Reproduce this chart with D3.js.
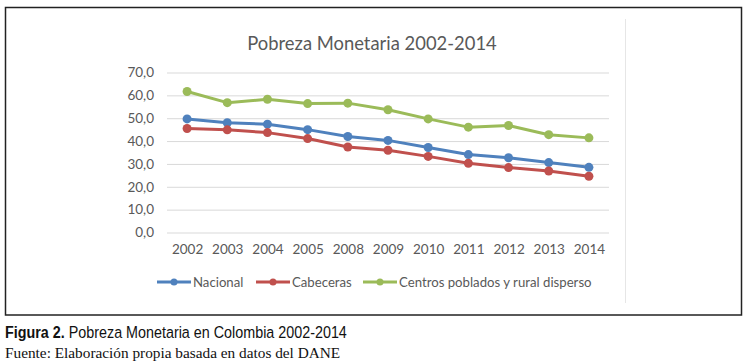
<!DOCTYPE html>
<meta charset="utf-8">
<style>
body { margin: 0; background: #fff; }
svg { display: block; }
.chart text { font-family: Lato, "Open Sans", sans-serif; fill: #595959; }
.grid line { stroke: #d9d9d9; stroke-width: 1; }
.grid .domain { display: none; }
.series { fill: none; stroke-width: 3; stroke-linejoin: round; }
</style>
<svg width="747" height="363"></svg>
<script src="https://d3js.org/d3.v7.min.js"></script>
<script>

// data (DANE, % de personas en pobreza monetaria)
var years = ["2002", "2003", "2004", "2005", "2008", "2009", "2010", "2011", "2012", "2013", "2014"];
var nacional  = [49.7, 48.0, 47.4, 45.0, 42.0, 40.3, 37.2, 34.1, 32.7, 30.6, 28.5];
var cabeceras = [45.5, 44.9, 43.7, 41.1, 37.4, 36.0, 33.3, 30.3, 28.4, 26.9, 24.6];
var rural     = [61.7, 56.8, 58.3, 56.4, 56.6, 53.7, 49.7, 46.1, 46.8, 42.8, 41.4];
var yTicks = [0, 10, 20, 30, 40, 50, 60, 70];

var series = [
  {name: "Nacional", values: nacional, color: "#4f81bd"},
  {name: "Cabeceras", values: cabeceras, color: "#c0504d"},
  {name: "Centros poblados y rural disperso", values: rural, color: "#9bbb59"}
];

var svg = d3.select("svg");

// outer frame of the figure
svg.append("rect")
    .attr("x", 5.5).attr("y", 7.5)
    .attr("width", 736).attr("height", 307.5)
    .attr("fill", "none").attr("stroke", "#222").attr("stroke-width", 1.5);

// faint line at the right of the chart area
svg.append("line")
    .attr("x1", 625.5).attr("x2", 625.5).attr("y1", 19).attr("y2", 303)
    .attr("stroke", "#e6e6e6");

var chart = svg.append("g").attr("class", "chart");

var x = d3.scalePoint()
    .domain(years)
    .range([167, 609])
    .padding(0.5);

var y = d3.scaleLinear()
    .domain([0, 70])
    .range([232.5, 72.5]);

chart.append("text")
    .attr("x", 372).attr("y", 50)
    .attr("text-anchor", "middle")
    .style("font-size", "18.4px")
    .text("Pobreza Monetaria 2002-2014");

var gy = chart.append("g")
    .attr("class", "grid")
    .attr("transform", "translate(167,0)")
    .call(d3.axisLeft(y)
      .tickValues(yTicks)
      .tickSize(-(609 - 167))
      .tickPadding(13)
      .tickFormat(function(d) { return d3.format(".1f")(d).replace(".", ","); }));
gy.selectAll("text").style("font-size", "13.5px");
gy.selectAll(".tick line").filter(function(d) { return d === 0; }).attr("stroke-width", 1.6);

var gx = chart.append("g")
    .attr("transform", "translate(0,232.5)")
    .call(d3.axisBottom(x).tickSize(0).tickPadding(12));
gx.select(".domain").remove();
gx.selectAll("text").style("font-size", "13.5px");

var line = d3.line()
    .x(function(d, i) { return x(years[i]); })
    .y(function(d) { return y(d); });

series.forEach(function(s) {
  chart.append("path")
      .attr("class", "series")
      .attr("stroke", s.color)
      .attr("d", line(s.values));
  chart.selectAll(null)
    .data(s.values)
    .enter().append("circle")
      .attr("cx", function(d, i) { return x(years[i]); })
      .attr("cy", function(d) { return y(d); })
      .attr("r", 4.5)
      .attr("fill", s.color);
});

// legend
var legendX = [157, 256, 363];
var legend = chart.selectAll(".legend")
    .data(series)
    .enter().append("g")
      .attr("transform", function(d, i) { return "translate(" + legendX[i] + ",282)"; });
legend.append("line")
    .attr("x1", 0).attr("x2", 34)
    .attr("stroke", function(d) { return d.color; })
    .attr("stroke-width", 3);
legend.append("circle")
    .attr("cx", 17).attr("r", 3.5)
    .attr("fill", function(d) { return d.color; });
legend.append("text")
    .attr("x", 36).attr("dy", "0.35em")
    .style("font-size", "13.2px")
    .text(function(d) { return d.name; });

// caption below the frame (condensed face, squeezed to the printed width)
var capG = svg.append("g").attr("transform", "translate(5,338)");
var cap = capG.append("text")
    .style("font-family", "'Liberation Sans', Arial, sans-serif")
    .style("font-size", "17px")
    .attr("fill", "#111");
cap.append("tspan").style("font-weight", "bold").text("Figura 2.");
cap.append("tspan").text(" Pobreza Monetaria en Colombia 2002-2014");
var capW = cap.node().getComputedTextLength();
cap.attr("transform", "scale(" + (342 / capW) + ",1)");

svg.append("text")
    .attr("x", 5).attr("y", 357.5)
    .style("font-family", "'Liberation Serif', serif")
    .style("font-size", "15.3px")
    .attr("fill", "#111")
    .text("Fuente: Elaboración propia basada en datos del DANE");

</script>
